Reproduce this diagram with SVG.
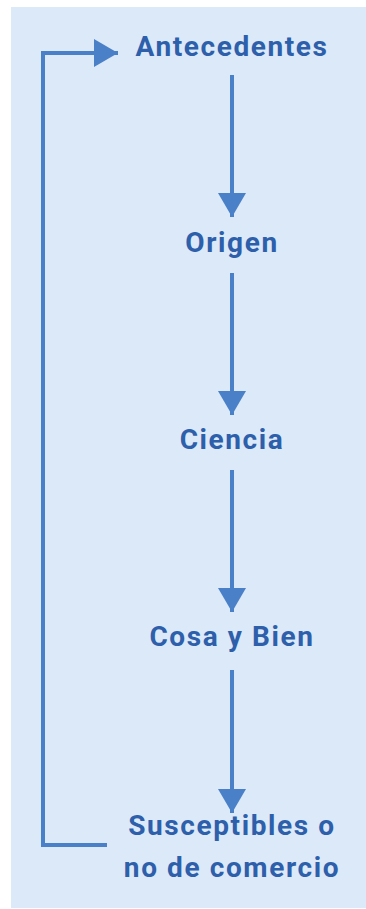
<svg xmlns="http://www.w3.org/2000/svg" width="366" height="909" viewBox="0 0 366 909">
<defs>
<style>
.lbl{font-family:Roboto,"Liberation Sans",sans-serif;font-weight:bold;font-size:28px;letter-spacing:1.6px;fill:#2d5fab;text-anchor:middle}
.edge{stroke:#4a80c8;stroke-width:4;fill:none}
</style>
<marker id="ah" markerUnits="userSpaceOnUse" markerWidth="28" markerHeight="28" viewBox="0 0 24 28" refX="24" refY="14" orient="auto">
<path d="M0,0 L24,14 L0,28 Z" fill="#4a80c8"/>
</marker>
</defs>
<rect x="11" y="7" width="355" height="901" fill="#dce9f8"/>
<g id="n1"><text class="lbl" x="232" y="56">Antecedentes</text></g>
<g id="n2"><text class="lbl" x="232" y="252">Origen</text></g>
<g id="n3"><text class="lbl" x="232" y="449">Ciencia</text></g>
<g id="n4"><text class="lbl" x="232" y="646">Cosa y Bien</text></g>
<g id="n5"><text class="lbl" x="232" y="835">Susceptibles o</text><text class="lbl" x="232" y="877">no de comercio</text></g>
<g id="edges">
<path class="edge" d="M232,75 V217" marker-end="url(#ah)"/>
<path class="edge" d="M232,273 V415" marker-end="url(#ah)"/>
<path class="edge" d="M232,470 V612" marker-end="url(#ah)"/>
<path class="edge" d="M232,670 V813" marker-end="url(#ah)"/>
<path class="edge" d="M107,845 H43 V53 H118" marker-end="url(#ah)"/>
</g>
</svg>
